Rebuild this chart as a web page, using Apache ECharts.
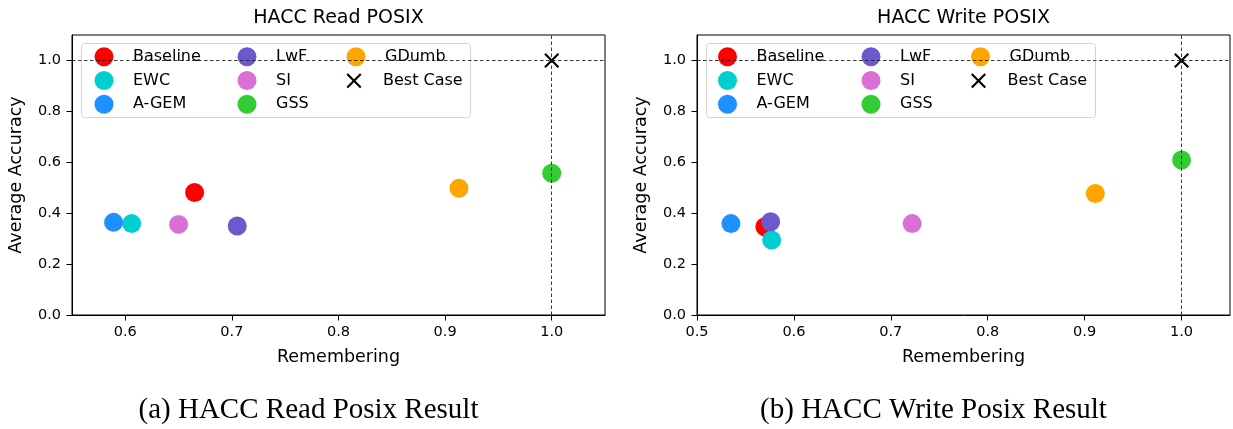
<!DOCTYPE html>
<html><head><meta charset="utf-8">
<script src="https://cdn.jsdelivr.net/npm/echarts@6/dist/echarts.min.js"></script>
<style>html,body{margin:0;padding:0;background:#fff}#c{width:1233px;height:429px}</style>
</head><body><div id="c"></div>
<script>
// ---- data ----
const methods = ['Baseline','EWC','A-GEM','LwF','SI','GSS','GDumb','Best Case'];
const colors = ['#FF0000','#00CED1','#1E90FF','#6A5ACD','#DA70D6','#32CD32','#FFA500','#000000'];
const readRemembering = [0.665,0.606,0.589,0.705,0.650,1.0,0.913,1.0];
const readAccuracy    = [0.481,0.359,0.364,0.350,0.356,0.557,0.498,1.0];
const writeRemembering = [0.570,0.577,0.535,0.576,0.722,1.0,0.911,1.0];
const writeAccuracy    = [0.347,0.295,0.359,0.366,0.359,0.609,0.477,1.0];
const readXTicks = [0.6,0.7,0.8,0.9,1.0];
const writeXTicks = [0.5,0.6,0.7,0.8,0.9,1.0];
const yTicks = [0.0,0.2,0.4,0.6,0.8,1.0];
const titles = ['HACC Read POSIX','HACC Write POSIX'];
const captions = ['(a) HACC Read Posix Result','(b) HACC Write Posix Result'];
const xAxisName = 'Remembering';
const yAxisName = 'Average Accuracy';
const legendColumns = [[0,1,2],[3,4,5],[6],[7]];

// ---- layout ----
const FONT = 'DejaVu Sans';
const panels = [
  {left:72, width:533, xMin:0.55, xMax:1.05, xs:readRemembering, ys:readAccuracy, ticks:readXTicks, legLeft:[22.5,165.5,274.5,274.5]},
  {left:697, width:533, xMin:0.5, xMax:1.05, xs:writeRemembering, ys:writeAccuracy, ticks:writeXTicks, legLeft:[21,164.5,274,274]}
];
const gridTop = 35, gridH = 280;
const xPath = 'path://M0,10L10,0L50,40L90,0L100,10L60,50L100,90L90,100L50,60L10,100L0,90L40,50Z';
const legendColTop = [47.2,47.2,47.2,72.8];

const option = {animation:false, grid:[], xAxis:[], yAxis:[], series:[], title:[], legend:[], graphic:[]};

panels.forEach((p, pi) => {
  option.grid.push({left:p.left, top:gridTop, width:p.width, height:gridH, show:true, borderColor:'#000', borderWidth:1, backgroundColor:'transparent'});
  option.xAxis.push({
    type:'value', gridIndex:pi, min:p.xMin, max:p.xMax,
    name:xAxisName, nameLocation:'middle', nameGap:33,
    nameTextStyle:{fontFamily:FONT, fontSize:17.5, color:'#000'},
    axisLine:{onZero:false, lineStyle:{color:'#000', width:1}},
    axisTick:{show:true, length:5.5, lineStyle:{color:'#000'}, customValues:p.ticks},
    axisLabel:{fontFamily:FONT, fontSize:14.5, color:'#000', margin:10, customValues:p.ticks, formatter:v=>v.toFixed(1)},
    splitLine:{show:false}
  });
  option.yAxis.push({
    type:'value', gridIndex:pi, min:0, max:1.1,
    name:yAxisName, nameLocation:'middle', nameGap:47,
    nameTextStyle:{fontFamily:FONT, fontSize:17.5, color:'#000'},
    axisLine:{onZero:false, lineStyle:{color:'#000', width:1}},
    axisTick:{show:true, length:5.5, lineStyle:{color:'#000'}, customValues:yTicks},
    axisLabel:{fontFamily:FONT, fontSize:14.5, color:'#000', margin:11, customValues:yTicks, formatter:v=>v.toFixed(1)},
    splitLine:{show:false}
  });
  methods.forEach((m, i) => {
    const isBest = i === methods.length - 1;
    const s = {
      type:'scatter', name:m, xAxisIndex:pi, yAxisIndex:pi,
      data:[[p.xs[i], p.ys[i]]],
      symbol: isBest ? xPath : 'circle',
      symbolSize: isBest ? 15 : 19,
      symbolKeepAspect:true,
      itemStyle:{color:colors[i], opacity:1, borderWidth:0},
      emphasis:{disabled:true},
      z: 2 + i*0.01
    };
    if (isBest) {
      s.markLine = {
        silent:true, symbol:['none','none'], label:{show:false},
        lineStyle:{type:[3.5,2.5], color:'#222', width:0.9},
        data:[{xAxis:p.xs[i]},{yAxis:p.ys[i]}]
      };
    }
    option.series.push(s);
  });
  // titles
  option.title.push({text:titles[pi], left:p.left + p.width/2, textAlign:'center', top:9, padding:0,
    textStyle:{fontFamily:FONT, fontSize:19, fontWeight:'normal', color:'#000'}});
  option.title.push({text:captions[pi], left:p.left + p.width/2 - 30, textAlign:'center', top:396, padding:0,
    textStyle:{fontFamily:'Liberation Serif', fontSize:29, fontWeight:'normal', color:'#000'}});
  // legend frame
  option.graphic.push({type:'rect', left:p.left + 9, top:43, z:3,
    shape:{width:389, height:74, r:3},
    style:{fill:'rgba(255,255,255,0.8)', stroke:'#d4d4d4', lineWidth:1}});
  // legends (columns)
  legendColumns.forEach((col, ci) => {
    const isBestCol = ci === 3;
    option.legend.push({
      data: col.map(i => ({name:methods[i], icon: i === methods.length-1 ? xPath : 'circle'})),
      orient:'vertical', left:p.left + p.legLeft[ci], top:legendColTop[ci], padding:0,
      itemWidth:48, itemHeight: isBestCol ? 15 : 19, itemGap:4.8, selectedMode:false, z:5,
      textStyle:{fontFamily:FONT, fontSize:16, color:'#000'}
    });
  });
});

const chart = echarts.init(document.getElementById('c'), null, {renderer:'canvas'});
chart.setOption(option);
</script>
</body></html>
